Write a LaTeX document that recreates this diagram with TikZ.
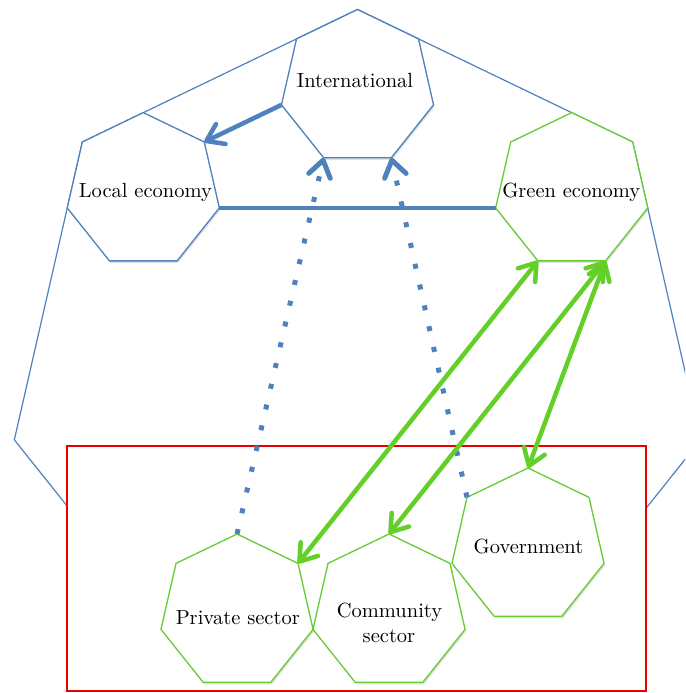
\documentclass[tikz,border=0pt]{standalone}
\usepackage{fontspec}
\setmainfont{lmroman10-regular.otf}
\usetikzlibrary{shapes.geometric,arrows.meta,shadows}
\definecolor{hblue}{RGB}{79,129,189}
\definecolor{hgreen}{RGB}{102,204,51}
\definecolor{agreen}{RGB}{98,208,40}
\definecolor{boxred}{RGB}{235,0,0}
\begin{document}
\begin{tikzpicture}[x=1pt,y=-1pt,
  hepta/.style={regular polygon, regular polygon sides=7, minimum size=156pt,
    inner sep=0pt, outer sep=0pt, fill=white, line width=1.3pt,
    drop shadow={shadow xshift=1pt,shadow yshift=-2pt,opacity=0.25,fill=gray}},
  bluehep/.style={hepta, draw=hblue},
  greenhep/.style={hepta, draw=hgreen},
  lbl/.style={font=\fontsize{20.5}{24}\selectfont, inner sep=0pt, anchor=base},
  bluethick/.style={draw=hblue, line width=4.5pt},
  bluehead/.style={-{Straight Barb[length=16pt,width=22pt,round]}},
  dottedarrow/.style={draw=hblue, line width=5pt, dash pattern=on 5pt off 16.3pt,
    -{Straight Barb[length=16pt,width=22pt,round]}},
  greenarrow/.style={draw=agreen, line width=4.5pt,
    {Straight Barb[length=16pt,width=22pt,round]}-{Straight Barb[length=16pt,width=22pt,round]}}
]
\useasboundingbox (0,0) rectangle (685,693);
\clip (0,0) rectangle (685,693);
% outer heptagon
\node[regular polygon, regular polygon sides=7, minimum size=704pt, inner sep=0pt,
  outer sep=0pt, draw=hblue, line width=1.2pt] (big) at (357.5,361.5) {};
% red box
\node[draw=boxred, fill=white, line width=1.4pt, minimum width=579pt,
  minimum height=245pt, inner sep=0pt, outer sep=0pt, anchor=north west] (box) at (67,446) {};
% heptagons
\node[bluehep] (intl) at (357.5,87.5) {};
\node[bluehep] (local) at (143.3,190.6) {};
\node[greenhep] (green) at (571.7,190.6) {};
\node[greenhep] (private) at (237,612) {};
\node[greenhep] (community) at (389,612) {};
\node[greenhep] (gov) at (528,546) {};
% labels
\node[lbl] (intl-t) at (355,88) {International};
\node[lbl] (local-t) at (145.4,197) {Local economy};
\node[lbl] (green-t) at (571.3,197) {Green economy};
\node[lbl] (private-t) at (237.8,624) {Private sector};
\node[lbl] (community-t1) at (389.5,617) {Community};
\node[lbl] (community-t2) at (389,642) {sector};
\node[lbl] (gov-t) at (528.5,553) {Government};
% connectors
\draw[bluethick, bluehead] (intl.corner 3) -- (local.corner 7);
\draw[bluethick] (local.corner 6) -- (green.corner 3);
\draw[dottedarrow] (private.corner 1) -- (intl.corner 4);
\draw[dottedarrow] (gov.corner 2) -- (intl.corner 5);
\draw[greenarrow] (green.corner 4) -- (private.corner 7);
\draw[greenarrow] (green.corner 5) -- (community.corner 1);
\draw[greenarrow] (green.corner 5) -- (gov.corner 1);
\end{tikzpicture}
\end{document}
